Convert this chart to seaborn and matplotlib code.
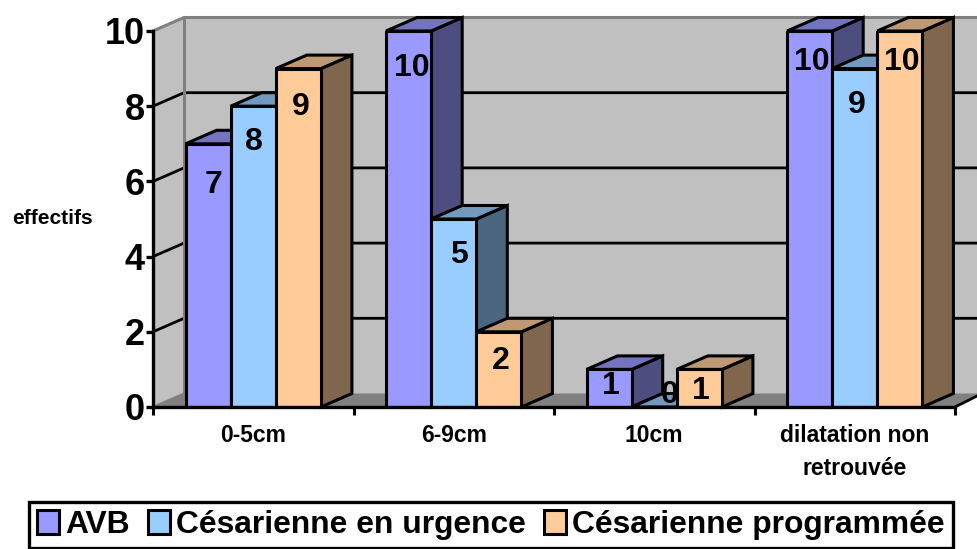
import matplotlib
matplotlib.use("Agg")
import matplotlib.pyplot as plt
import pandas as pd
import seaborn as sns
from matplotlib.patches import Polygon

categories = ["0-5cm", "6-9cm", "10cm", "dilatation non\nretrouvée"]
series_names = ["AVB", "Césarienne en urgence", "Césarienne programmée"]
avb = [7, 10, 1, 10]
urgence = [8, 5, 0, 9]
programmee = [9, 2, 1, 10]
y_ticks = [0, 2, 4, 6, 8, 10]

# styling
front_colors = ["#9999FF", "#99CCFF", "#FFCC99"]
top_colors = ["#7373BF", "#7399BF", "#BF9973"]
side_colors = ["#4D4D80", "#4D6680", "#80664D"]
label_drop_px = [[41, 36, 38], [37, 36, 29], [17, -12, 22], [31, 36, 31]]
label_shift_px = [[5, 1, 2], [3, 5, 2], [2, 15, 2], [2, 2, 2]]

W, H = 978, 549
L, R, B, T = 153, 955, 407, 31
fig = plt.figure(figsize=(W / 100, H / 100), dpi=100)
sns.set_theme(style="white")
plt.rcParams["font.family"] = ["Liberation Sans", "DejaVu Sans"]
plt.rcParams["font.weight"] = "bold"
ax = fig.add_axes([L / W, 1 - B / H, (R - L) / W, (B - T) / H])

rows = []
for name, vals in zip(series_names, [avb, urgence, programmee]):
    for c, v in zip(categories, vals):
        rows.append({"cat": c, "series": name, "value": v})
df = pd.DataFrame(rows)

sns.barplot(data=df, x="cat", y="value", hue="series", order=categories,
            hue_order=series_names, palette=front_colors, width=0.675, gap=0,
            saturation=1, edgecolor="black", linewidth=2.2, ax=ax, zorder=5)
ax.set_xlim(-0.5, 3.5)
ax.set_ylim(0, 10)

px_x = (R - L) / 4
px_y = (B - T) / 10
DX, DY = 31 / px_x, 13.5 / px_y
x_left = -0.5
x_right = 3.5
x_fig = 3.5 + (W - R) / px_x

# back wall, left wall and floor
ax.add_patch(Polygon([(x_left + DX, DY), (x_fig, DY), (x_fig, 10 + DY), (x_left + DX, 10 + DY)],
                     fc="#C0C0C0", ec="none", clip_on=False, zorder=0))
ax.add_patch(Polygon([(x_left, 0), (x_left + DX, DY), (x_left + DX, 10 + DY), (x_left, 10)],
                     fc="#C0C0C0", ec="none", clip_on=False, zorder=0))
ax.add_patch(Polygon([(x_left, 0), (x_left + DX, DY), (x_fig, DY), (x_fig, DY * 0.85), (x_right, 0)],
                     fc="#808080", ec="none", clip_on=False, zorder=1))
for v in y_ticks[1:-1]:
    ax.plot([x_left, x_left + DX, x_fig], [v, v + DY, v + DY], color="black", lw=2,
            clip_on=False, zorder=2, solid_capstyle="butt")
ax.plot([x_left, x_left + DX, x_fig], [10, 10 + DY, 10 + DY], color="#808080", lw=2.2, clip_on=False, zorder=2)
ax.plot([x_left + DX, x_left + DX], [DY, 10 + DY], color="#808080", lw=2.2, clip_on=False, zorder=2)
ax.plot([x_left, x_left + DX], [0, DY], color="#808080", lw=1.5, clip_on=False, zorder=2)
ax.plot([x_right, x_fig], [0, DY * 0.85], color="black", lw=2, clip_on=False, zorder=2)

# extruded faces computed from the bars the library drew
z = 5.0
for s, cont in enumerate(ax.containers):
    for c, bar in enumerate(cont):
        x0, w, h = bar.get_x(), bar.get_width(), bar.get_height()
        x1 = x0 + w
        z += 0.01
        ax.add_patch(Polygon([(x1, 0), (x1 + DX, DY), (x1 + DX, h + DY), (x1, h)],
                             fc=side_colors[s], ec="black", lw=2.2, clip_on=False, zorder=z))
        ax.add_patch(Polygon([(x0, h), (x0 + DX, h + DY), (x1 + DX, h + DY), (x1, h)],
                             fc=top_colors[s], ec="black", lw=2.2, clip_on=False, zorder=z))
        z += 0.01
        bar.set_zorder(z)

# value labels
for s, cont in enumerate(ax.containers):
    for c, bar in enumerate(cont):
        h = bar.get_height()
        ax.annotate(f"{h:.0f}", (bar.get_x() + bar.get_width() / 2, h),
                    xytext=(label_shift_px[c][s] * 0.72, -label_drop_px[c][s] * 0.72),
                    textcoords="offset points", ha="center", va="center",
                    fontsize=23, fontweight="bold", color="black", zorder=50,
                    annotation_clip=False)

# axes and ticks
sns.despine(ax=ax, top=True, right=True)
for sp in ("left", "bottom"):
    ax.spines[sp].set_linewidth(2.4)
    ax.spines[sp].set_color("black")
    ax.spines[sp].set_zorder(30)
ax.set_yticks(y_ticks)
ax.set_yticklabels([str(v) for v in y_ticks], fontsize=26, fontweight="bold", color="black")
ax.tick_params(axis="y", left=True, length=5, width=2.4, pad=1, color="black")
ax.set_xticks(range(4))
ax.set_xticklabels(categories, fontsize=16.5, fontweight="bold", color="black", linespacing=1.55)
ax.set_xticks([-0.5, 0.5, 1.5, 2.5, 3.5], minor=True)
ax.tick_params(axis="x", which="major", bottom=False, pad=6.5)
ax.tick_params(axis="x", which="minor", bottom=True, length=6, width=2.2, color="black")
ax.set_xlabel("")
ax.set_ylabel("")
fig.text(52 / W, 1 - 219 / H, "effectifs", ha="center", va="center",
         fontsize=15, fontweight="bold", color="black")

# legend
handles, labels = ax.get_legend_handles_labels()
ax.legend(handles, labels, loc="center", bbox_to_anchor=(491 / W, 1 - 525 / H),
          bbox_transform=fig.transFigure, ncols=3, frameon=True, fancybox=False,
          edgecolor="black", facecolor="white", framealpha=1, title=None,
          prop={"family": "Liberation Sans", "weight": "bold", "size": 22.9},
          labelcolor="black",
          handlelength=0.7, handleheight=0.78, handletextpad=0.2, columnspacing=0.55,
          borderpad=0.25, borderaxespad=0).get_frame().set_linewidth(2.4)

fig.savefig("out.png", dpi=100)
